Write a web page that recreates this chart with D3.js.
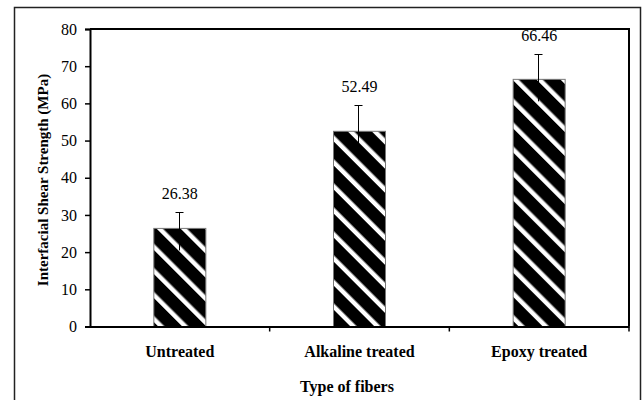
<!DOCTYPE html>
<html>
<head>
<meta charset="utf-8">
<script src="https://cdn.jsdelivr.net/npm/d3@7"></script>
<style>
  body { margin: 0; background: #fff; }
  svg text { font-family: "Liberation Serif", "Times New Roman", "DejaVu Serif", serif !important; fill: #000; }
</style>
</head>
<body>
<svg id="chart" width="642" height="400"></svg>
<script>
const categories = ["Untreated", "Alkaline treated", "Epoxy treated"];
const values = [26.38, 52.49, 66.46];
const errors = [4.3, 7.0, 6.8];
const yTicks = [0, 10, 20, 30, 40, 50, 60, 70, 80];

const svg = d3.select("#chart");
const margin = { left: 90, top: 29, right: 629, bottom: 326.5 };

// outer frame
svg.append("rect")
  .attr("x", 14.5).attr("y", 7.5)
  .attr("width", 626).attr("height", 400)
  .attr("fill", "none").attr("stroke", "#222").attr("stroke-width", 1.5);

// hatch
const defs = svg.append("defs");
const pat = defs.append("pattern")
  .attr("id", "hatch")
  .attr("patternUnits", "userSpaceOnUse")
  .attr("width", 17).attr("height", 17)
  .attr("patternTransform", "rotate(-45)");
pat.append("rect").attr("width", 17).attr("height", 17).attr("fill", "#000");
pat.append("rect").attr("x", 0).attr("width", 4.5).attr("height", 17).attr("fill", "#fff");

const x = d3.scaleBand()
  .domain(categories)
  .range([margin.left, margin.right]);

const y = d3.scaleLinear()
  .domain([0, 80])
  .range([margin.bottom, margin.top]);

// plot box (top and right)
svg.append("path")
  .attr("d", `M${margin.left},${margin.top}H${margin.right}V${margin.bottom}`)
  .attr("fill", "none").attr("stroke", "#000").attr("stroke-width", 2);

const barW = 52;
const g = svg.append("g");

g.selectAll("rect.bar")
  .data(values)
  .join("rect")
  .attr("class", "bar")
  .attr("x", (d, i) => x(categories[i]) + x.bandwidth() / 2 - barW / 2)
  .attr("y", d => y(d))
  .attr("width", barW)
  .attr("height", d => y(0) - y(d))
  .attr("fill", "url(#hatch)")
  .attr("stroke", "#777").attr("stroke-width", 1);

// error bars (upper only)
g.selectAll("path.err")
  .data(values)
  .join("path")
  .attr("class", "err")
  .attr("d", (d, i) => {
    const cx = Math.round(x(categories[i]) + x.bandwidth() / 2) - 0.5;
    const top = Math.round(y(d + errors[i])) + 0.5;
    return `M${cx},${y(d) + 22}V${top}M${cx - 4},${top}H${cx + 4}`;
  })
  .attr("fill", "none").attr("stroke", "#000").attr("stroke-width", 1);

// value labels
g.selectAll("text.val")
  .data(values)
  .join("text")
  .attr("class", "val")
  .attr("x", (d, i) => x(categories[i]) + x.bandwidth() / 2)
  .attr("y", (d, i) => y(d + errors[i]) - 13)
  .attr("text-anchor", "middle")
  .style("font-size", "16px")
  .text(d => d.toFixed(2));

// y axis
const yAxis = svg.append("g")
  .attr("transform", `translate(${margin.left},0)`)
  .call(d3.axisLeft(y).tickValues(yTicks).tickSize(5).tickPadding(8));
yAxis.select(".domain").attr("stroke-width", 2);
yAxis.selectAll(".tick line").attr("stroke-width", 1.5).attr("x2", -5).attr("x1", 1);
yAxis.selectAll("text").style("font-size", "16px");

// x axis
const xAxis = svg.append("g")
  .attr("transform", `translate(0,${margin.bottom})`)
  .call(d3.axisBottom(x).tickSize(0).tickPadding(19));
xAxis.select(".domain").attr("stroke-width", 2);
xAxis.selectAll("text").style("font-size", "16px").style("font-weight", "bold");

// boundary ticks on x axis
svg.append("g").selectAll("line")
  .data(categories.slice(1).concat(["end"]))
  .join("line")
  .attr("x1", (d, i) => i < 2 ? x(d) : margin.right)
  .attr("x2", (d, i) => i < 2 ? x(d) : margin.right)
  .attr("y1", margin.bottom).attr("y2", margin.bottom + 5)
  .attr("stroke", "#000").attr("stroke-width", 1.5);

// titles
svg.append("text")
  .attr("x", 347).attr("y", 392)
  .attr("text-anchor", "middle")
  .style("font-size", "16px").style("font-weight", "bold")
  .text("Type of fibers");

svg.append("text")
  .attr("transform", "translate(48,180) rotate(-90)")
  .attr("text-anchor", "middle")
  .style("font-size", "15px").style("font-weight", "bold")
  .text("Interfacial Shear Strength (MPa)");
</script>
</body>
</html>
